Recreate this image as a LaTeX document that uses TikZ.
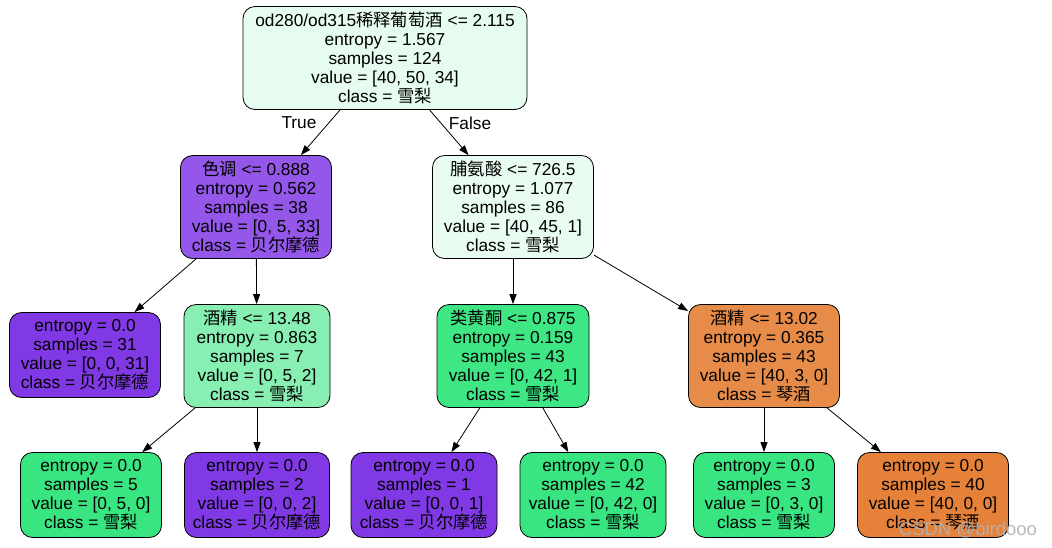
\documentclass[tikz,border=0pt]{standalone}
\usepackage{fontspec}
\setmainfont{Liberation Sans}
\newfontfamily\cjk{Noto Sans CJK SC}
\usetikzlibrary{arrows.meta}
\definecolor{cRoot}{RGB}{231,252,240}
\definecolor{cLa}{RGB}{148,87,233}
\definecolor{cRa}{RGB}{233,252,241}
\definecolor{cPur}{RGB}{129,57,229}
\definecolor{cGrL}{RGB}{136,239,179}
\definecolor{cGrD}{RGB}{62,230,132}
\definecolor{cOrD}{RGB}{231,139,72}
\definecolor{cGr}{RGB}{57,229,129}
\definecolor{cOr}{RGB}{229,129,57}
\begin{document}
\begin{tikzpicture}[x=1pt,y=-1pt,
  tree/.style={draw=black, rounded corners=12pt, align=center,
    font=\fontsize{17.3}{19}\selectfont, inner xsep=4pt, inner ysep=4pt, line width=0.8pt},
  tall/.style={tree, minimum height=103pt},
  short/.style={tree, minimum height=85pt},
  edge/.style={-{Triangle[length=10pt,width=7pt]}, line width=0.8pt},
  lbl/.style={font=\fontsize{17.3}{19}\selectfont, inner sep=0pt}]
\useasboundingbox (0,0) rectangle (1052,547);
\fill[white] (0,0) rectangle (1052,547);
% level 0
\node[tall, fill=cRoot, minimum width=284pt] (root) at (385,58)
  {od280/od315{\cjk 稀释葡萄酒} <= 2.115\\entropy = 1.567\\samples = 124\\value = [40, 50, 34]\\class = {\cjk 雪梨}};
% level 1
\node[tall, fill=cLa, minimum width=151pt] (a) at (256,207)
  {{\cjk 色调} <= 0.888\\entropy = 0.562\\samples = 38\\value = [0, 5, 33]\\class = {\cjk 贝尔摩德}};
\node[tall, fill=cRa, minimum width=161pt] (b) at (513,207)
  {{\cjk 脯氨酸} <= 726.5\\entropy = 1.077\\samples = 86\\value = [40, 45, 1]\\class = {\cjk 雪梨}};
% level 2
\node[short, fill=cPur, minimum width=151pt] (aa) at (85,355)
  {entropy = 0.0\\samples = 31\\value = [0, 0, 31]\\class = {\cjk 贝尔摩德}};
\node[tall, fill=cGrL, minimum width=146pt] (ab) at (257,356)
  {{\cjk 酒精} <= 13.48\\entropy = 0.863\\samples = 7\\value = [0, 5, 2]\\class = {\cjk 雪梨}};
\node[tall, fill=cGrD, minimum width=152pt] (ba) at (513,356)
  {{\cjk 类黄酮} <= 0.875\\entropy = 0.159\\samples = 43\\value = [0, 42, 1]\\class = {\cjk 雪梨}};
\node[tall, fill=cOrD, minimum width=151pt] (bb) at (764,356)
  {{\cjk 酒精} <= 13.02\\entropy = 0.365\\samples = 43\\value = [40, 3, 0]\\class = {\cjk 琴酒}};
% level 3
\node[short, fill=cGr, minimum width=141pt] (aba) at (91,495)
  {entropy = 0.0\\samples = 5\\value = [0, 5, 0]\\class = {\cjk 雪梨}};
\node[short, fill=cPur, minimum width=145pt] (abb) at (257,495)
  {entropy = 0.0\\samples = 2\\value = [0, 0, 2]\\class = {\cjk 贝尔摩德}};
\node[short, fill=cPur, minimum width=146pt] (baa) at (424,495)
  {entropy = 0.0\\samples = 1\\value = [0, 0, 1]\\class = {\cjk 贝尔摩德}};
\node[short, fill=cGr, minimum width=146pt] (bab) at (593,495)
  {entropy = 0.0\\samples = 42\\value = [0, 42, 0]\\class = {\cjk 雪梨}};
\node[short, fill=cGr, minimum width=141pt] (bba) at (764,495)
  {entropy = 0.0\\samples = 3\\value = [0, 3, 0]\\class = {\cjk 雪梨}};
\node[short, fill=cOr, minimum width=151pt] (bbb) at (933,495)
  {entropy = 0.0\\samples = 40\\value = [40, 0, 0]\\class = {\cjk 琴酒}};
% edges
\draw[edge] (root) -- (a);
\draw[edge] (root) -- (b);
\draw[edge] (a) -- (aa);
\draw[edge] (a) -- (ab);
\draw[edge] (b) -- (ba);
\draw[edge] (b) -- (bb);
\draw[edge] (ab) -- (aba);
\draw[edge] (ab) -- (abb);
\draw[edge] (ba) -- (baa);
\draw[edge] (ba) -- (bab);
\draw[edge] (bb) -- (bba);
\draw[edge] (bb) -- (bbb);
% edge labels
\node[lbl] (t) at (299,123) {True};
\node[lbl] (f) at (470,123) {False};
% watermark
\node[lbl, font=\fontsize{18.5}{20}\selectfont, text=gray!60, opacity=0.9] (wm) at (968,530) {CSDN @birdooo};
\end{tikzpicture}
\end{document}
